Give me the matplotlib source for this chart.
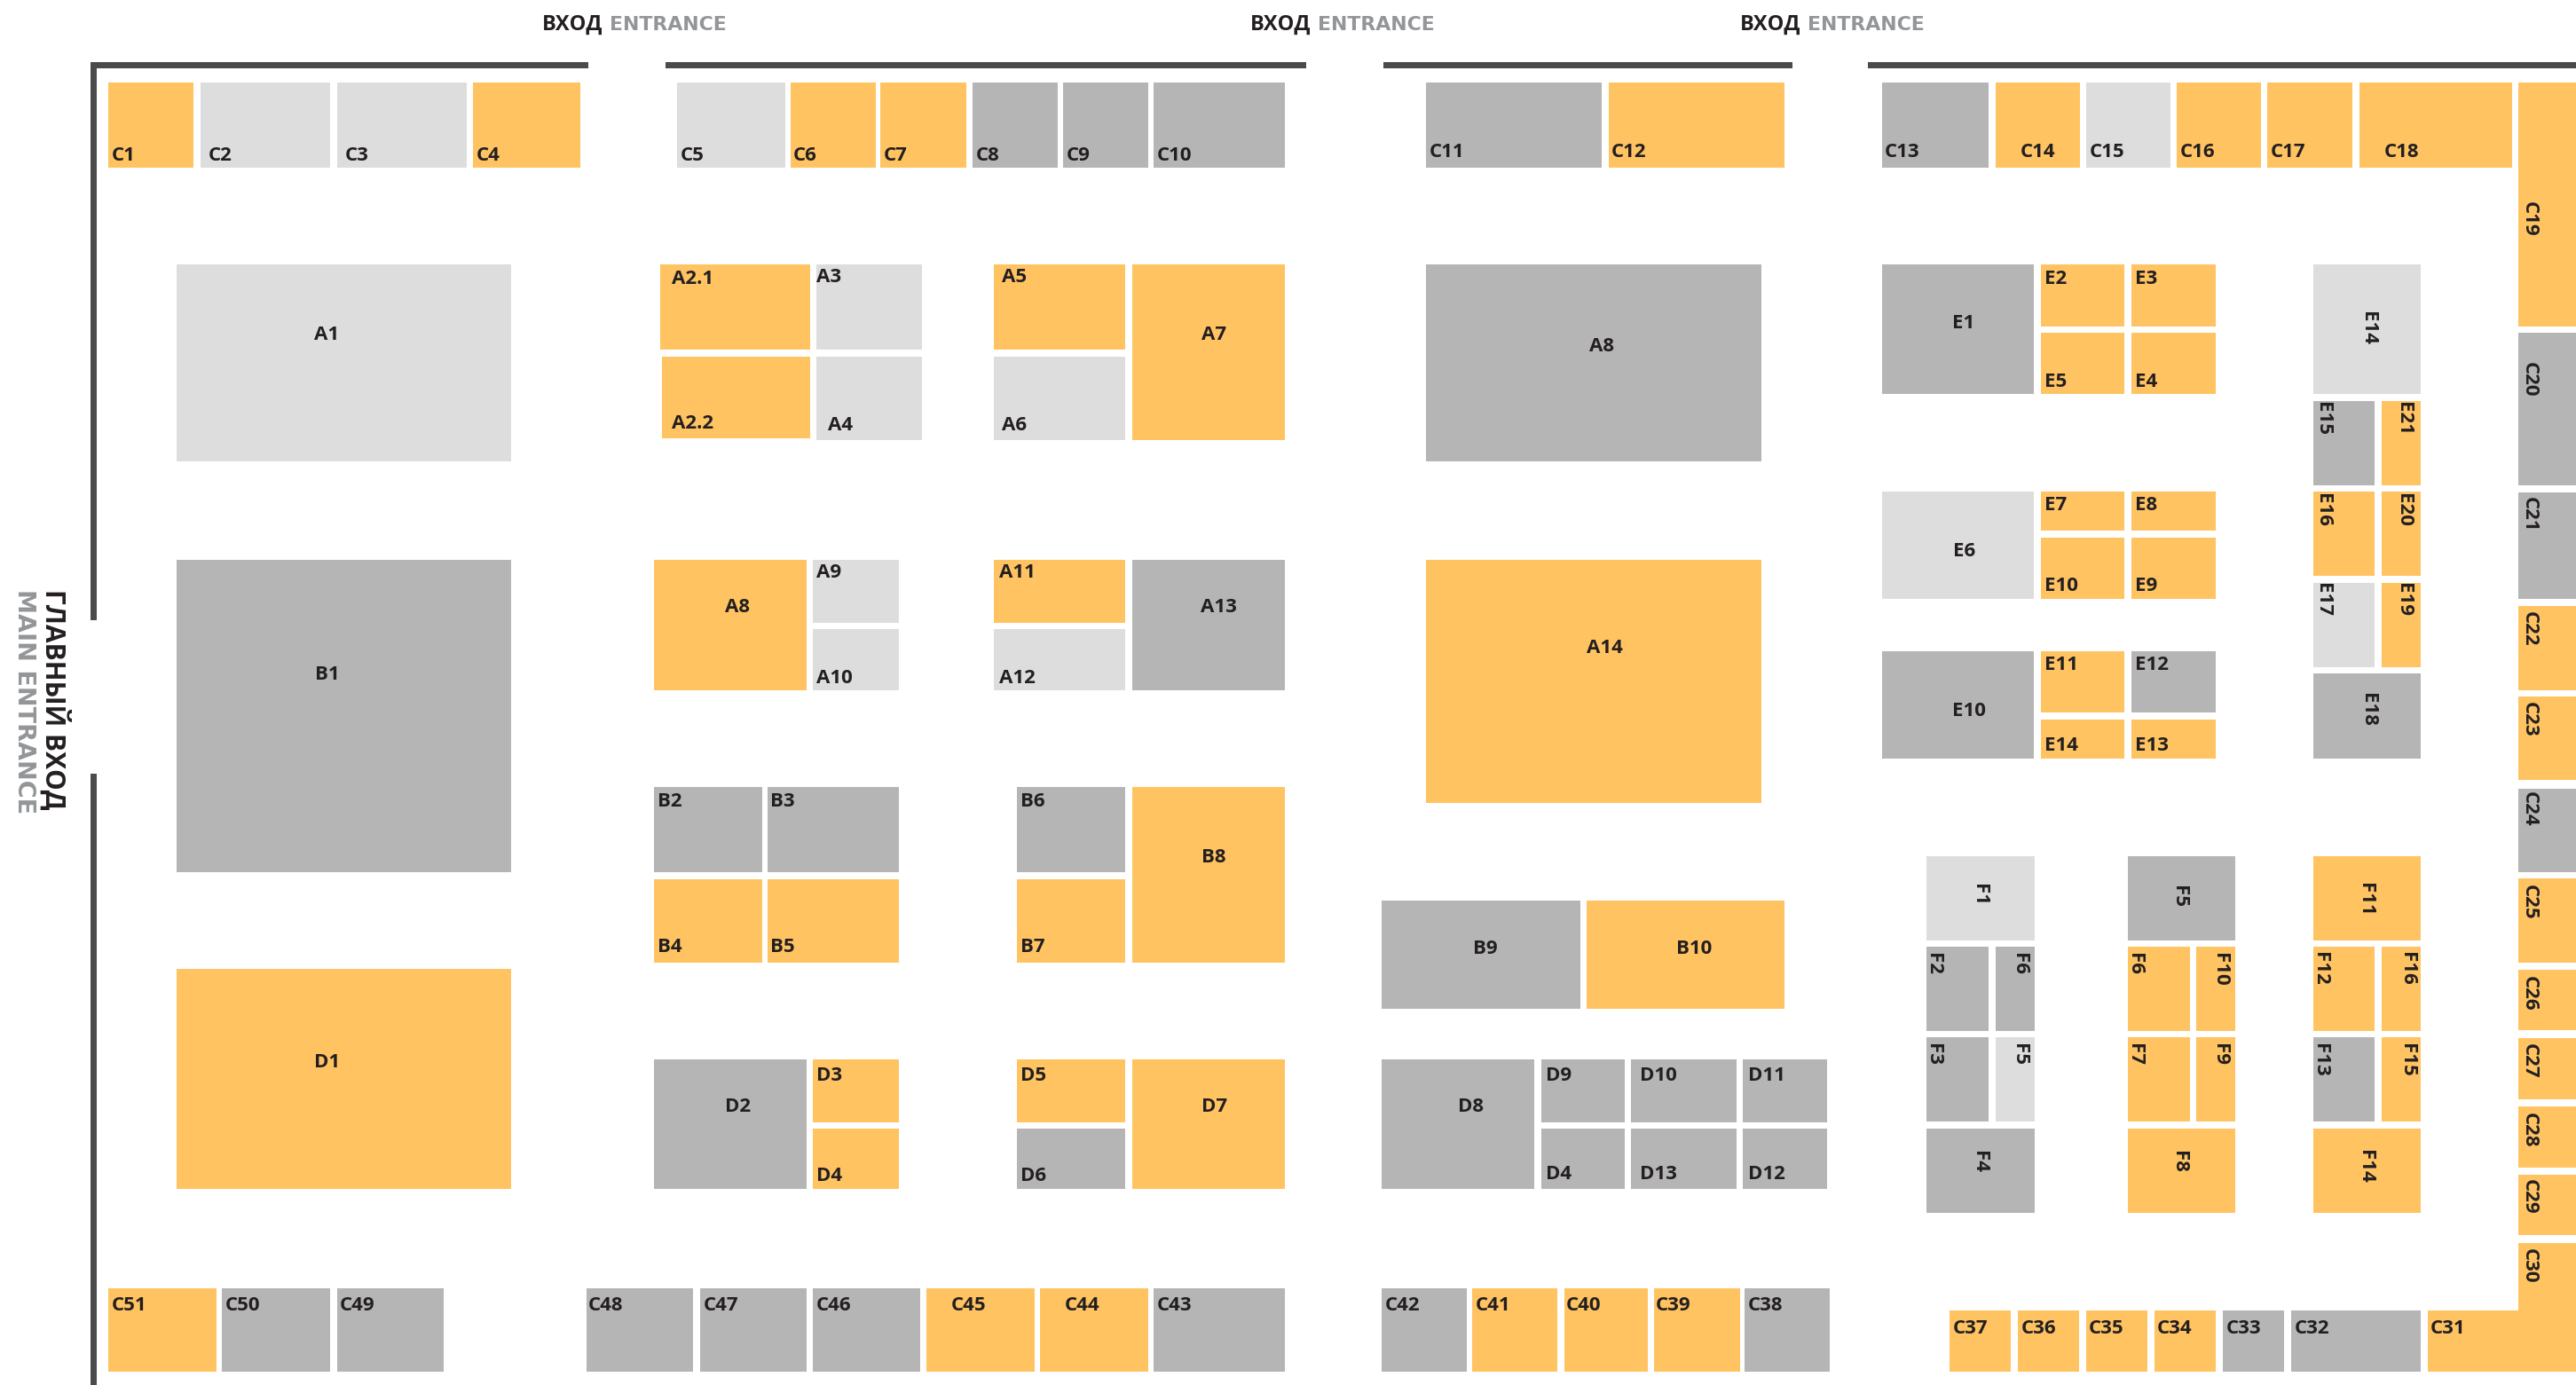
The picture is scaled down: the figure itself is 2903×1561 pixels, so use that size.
import matplotlib
matplotlib.use("Agg")
import matplotlib.pyplot as plt
from matplotlib.patches import Rectangle

W, H = 2903, 1561
SCALE = W / 1568.0
COLORS = {"O": "#FFC362", "D": "#B5B5B5", "L": "#DDDDDD"}
WALL = "#4A4B4B"
INK = "#231F20"
GREY = "#939598"
FONT = "Open Sans"
LABEL_SIZE = 16

# name, status, x0, x1, y0, y1, label x, label y  (label anchored left)
row_top = [
    ("C1","O",66,118,50,102,68,94), ("C2","L",122,201,50,102,127,94),
    ("C3","L",205,284,50,102,210,94), ("C4","O",288,353,50,102,290,94),
    ("C5","L",412,478,50,102,414,94), ("C6","O",481,533,50,102,483,94),
    ("C7","O",536,588,50,102,538,94), ("C8","D",592,644,50,102,594,94),
    ("C9","D",647,699,50,102,649,94), ("C10","D",702,782,50,102,704,94),
    ("C11","D",868,975,50,102,870,92), ("C12","O",979,1086,50,102,981,92),
    ("C13","D",1145.5,1210.5,50,102,1147,92), ("C14","O",1215,1266,50,102,1230,92),
    ("C15","L",1270,1321,50,102,1272,92), ("C16","O",1325,1376,50,102,1327,92),
    ("C17","O",1380,1432,50,102,1382,92), ("C18","O",1436,1529,50,102,1451,92),
]
row_bottom = [
    ("C51","O",66,132,784,835,68,794), ("C50","D",135,201,784,835,137,794),
    ("C49","D",205,270,784,835,207,794), ("C48","D",357,422,784,835,358,794),
    ("C47","D",426,491,784,835,428,794), ("C46","D",495,560,784,835,497,794),
    ("C45","O",564,630,784,835,579,794), ("C44","O",633,699,784,835,648,794),
    ("C43","D",702,782,784,835,704,794), ("C42","D",841,893,784,835,843,794),
    ("C41","O",896,948,784,835,898,794), ("C40","O",952,1003,784,835,953,794),
    ("C39","O",1007,1059,784,835,1008,794), ("C38","D",1062,1114,784,835,1064,794),
    ("C37","O",1186.6,1224.2,798,835,1188.5,808), ("C36","O",1228.5,1265.7,798,835,1230.4,808),
    ("C35","O",1270,1307,798,835,1271.6,808), ("C34","O",1311.6,1348.8,798,835,1313,808),
    ("C33","D",1353,1390.4,798,835,1355,808), ("C32","D",1394.5,1473.6,798,835,1396.5,808),
    ("C31","O",1477.6,1568,798,835,1479.5,808),
]
block_a = [
    ("A2.1","O",402,493,161,213,409,169), ("A2.2","O",403,493,217,267,409,257),
    ("A3","L",497,561,161,213,497,168), ("A4","L",497,561,217,268,504,258),
    ("A5","O",605,685,161,213,610,168), ("A6","L",605,685,217,268,610,258),
    ("A9","L",495,547,341,379,497,348), ("A10","L",495,547,383,420,497,412),
    ("A11","O",605,685,341,379,608,348), ("A12","L",605,685,383,420,608,412),
]
block_b = [
    ("B2","D",398,464,479,531,400,487), ("B3","D",467,547,479,531,469,487),
    ("B4","O",398,464,535,586,400,576), ("B5","O",467,547,535,586,469,576),
    ("B6","D",619,685,479,531,621,487), ("B7","O",619,685,535,586,621,576),
]
block_d = [
    ("D3","O",495,547,645,683,497,654), ("D4","O",495,547,687,724,497,715),
    ("D5","O",619,685,645,683,621,654), ("D6","D",619,685,687,724,621,715),
    ("D9","D",938,989,645,683,941,654), ("D10","D",993,1057,645,683,998,654),
    ("D11","D",1061,1112,645,683,1064,654), ("D4","D",938,989,687,724,941,714),
    ("D13","D",993,1057,687,724,998,714), ("D12","D",1061,1112,687,724,1064,714),
]
block_e = [
    ("E2","O",1242.5,1293,161,198.5,1244.2,169), ("E3","O",1297.4,1348.8,161,198.5,1299.5,169),
    ("E5","O",1242.5,1293,202.8,240,1244.2,231.6), ("E4","O",1297.4,1348.8,202.8,240,1299.5,231.6),
    ("E7","O",1242.5,1293,299.5,323,1244.2,307), ("E8","O",1297.4,1348.8,299.5,323,1299.5,307),
    ("E10","O",1242.5,1293,327.4,364.7,1244.2,355.7), ("E9","O",1297.4,1348.8,327.4,364.7,1299.5,355.7),
    ("E11","O",1242.5,1293,396.6,433.8,1244.2,404), ("E12","D",1297.4,1348.8,396.6,433.8,1299.5,404),
    ("E14","O",1242.5,1293,438,461.7,1244.2,453), ("E13","O",1297.4,1348.8,438,461.7,1299.5,453),
]
# label centred in both directions
block_centered = [
    ("A1","L",107.5,311,161,281,199,203), ("B1","D",107.5,311,341,531,199,410),
    ("D1","O",107.5,311,590,724,199,646), ("A7","O",689,782,161,268,739,203),
    ("A8","O",398,491,341,420,449,369), ("A13","D",689,782,341,420,742,369),
    ("B8","O",689,782,479,586,739,521), ("D2","D",398,491,645,724,449,673),
    ("D7","O",689,782,645,724,739,673), ("A8","D",868,1072,161,281,975,210),
    ("A14","O",868,1072,341,489,977,394), ("B9","D",841,962,548,614,904,577),
    ("B10","O",966,1086,548,614,1031,577), ("D8","D",841,934,645,724,895,673),
    ("E1","D",1145.5,1238,161,240,1195,196.3), ("E6","L",1145.5,1238,299.5,364.7,1195.5,335),
    ("E10","D",1145.5,1238,396.6,461.7,1198.7,432),
]
# label turned to read downwards
column_right = [
    ("C19","O",1533,1568,50,198.5,1541.3,133.3), ("C20","D",1533,1568,202.6,295.3,1541.3,231),
    ("C21","D",1533,1568,299.6,364.7,1541.3,313), ("C22","O",1533,1568,369,420,1541.3,383),
    ("C23","O",1533,1568,424,475,1541.3,437.8), ("C24","D",1533,1568,480,530.7,1541.3,492.6),
    ("C25","O",1533,1568,534.6,585.9,1541.3,549), ("C26","O",1533,1568,590.4,627,1541.3,604.6),
    ("C27","O",1533,1568,631.8,669,1541.3,646), ("C28","O",1533,1568,673.6,710.6,1541.3,688),
    ("C29","O",1533,1568,715,752,1541.3,728.7), ("C30","O",1533,1568,756.5,798.5,1541.3,770.8),
]
column_e = [
    ("E14","L",1408.2,1473.4,161,240,1442.9,200), ("E15","D",1408.2,1445.5,244,295.5,1415.6,255),
    ("E21","O",1449.6,1473.4,244,295.5,1465,255), ("E16","O",1408.2,1445.5,299.5,350.7,1415.6,310.4),
    ("E20","O",1449.6,1473.4,299.5,350.7,1465,310.4), ("E17","L",1408.2,1445.5,355,406,1415.6,365.3),
    ("E19","O",1449.6,1473.4,355,406,1465,365.3), ("E18","D",1408.2,1473.4,410,461.7,1442.9,432),
]
column_f = [
    ("F1","L",1172.8,1238.4,521,572.4,1206.6,544.8), ("F2","D",1172.8,1210.4,576.3,627.7,1178.7,587),
    ("F6","D",1214.6,1238.4,576.3,627.7,1230.7,587), ("F3","D",1172.8,1210.4,631.6,682.8,1178.7,642),
    ("F5","L",1214.6,1238.4,631.6,682.8,1230.7,642), ("F4","D",1172.8,1238.4,687,738.4,1206.6,707.4),
    ("F5","D",1295.4,1360.6,521,572.4,1328.3,545.8), ("F6","O",1295.4,1333,576.3,627.7,1301,587),
    ("F10","O",1336.8,1360.6,576.3,627.7,1353,590), ("F7","O",1295.4,1333,631.6,682.8,1301,642),
    ("F9","O",1336.8,1360.6,631.6,682.8,1353,642), ("F8","O",1295.4,1360.6,687,738.4,1328.3,707.4),
    ("F11","O",1408.2,1473.4,521,572.4,1441.7,547.8), ("F12","O",1408.2,1445.5,576.3,627.7,1413.8,590),
    ("F16","O",1449.6,1473.4,576.3,627.7,1467,590), ("F13","D",1408.2,1445.5,631.6,682.8,1413.8,645.5),
    ("F15","O",1449.6,1473.4,631.6,682.8,1467,645.5), ("F14","O",1408.2,1473.4,687,738.4,1441.7,710.4),
]
# x0, x1, y0, y1
walls = [
    (55,358,37.6,41.6), (405,795,37.6,41.6), (842,1091,37.6,41.6), (1137,1568,37.6,41.6),
    (55,59,37.6,377.6), (55,59,471,843.2),
]
entrance_x = [330, 761, 1059]
entrance_grey_x = [371, 802, 1100]
entrance_ru = "ВХОД"
entrance_en = "ENTRANCE"
main_ru = "ГЛАВНЫЙ ВХОД"
main_en = "MAIN ENTRANCE"

fig = plt.figure(figsize=(W / 100, H / 100), dpi=100, facecolor="white")
ax = fig.add_axes([0, 0, 1, 1])
ax.set_xlim(0, W / SCALE)
ax.set_ylim(H / SCALE, 0)
ax.axis("off")


def draw_box(x0, x1, y0, y1, color):
    ax.add_patch(Rectangle((x0, y0), x1 - x0, y1 - y0, facecolor=color, edgecolor="none", linewidth=0))


def draw(items, dx=0.0, dy=0.0, **text_kw):
    for name, status, x0, x1, y0, y1, lx, ly in items:
        draw_box(x0, x1, y0, y1, COLORS[status])
        ax.text(lx + dx, ly + dy, name, family=FONT, weight="bold", color=INK, fontsize=LABEL_SIZE, **text_kw)


for group in (row_top, row_bottom, block_a, block_b, block_d, block_e):
    draw(group, dy=0.8, ha="left", va="center")
draw(block_centered, dy=0.8, ha="center", va="center")
for group in (column_right, column_e, column_f):
    draw(group, dx=-1.8, ha="center", va="center", rotation=-90)

for x0, x1, y0, y1 in walls:
    draw_box(x0, x1, y0, y1, WALL)

for x, xg in zip(entrance_x, entrance_grey_x):
    ax.text(x, 15, entrance_ru, family=FONT, weight="bold", color=INK, fontsize=17, ha="left", va="center")
    ax.text(xg, 15, entrance_en, family="DejaVu Sans", weight="bold", color=GREY, fontsize=15.8, ha="left", va="center")

ax.text(33.5, 358.5, main_ru, family=FONT, weight="bold", color=INK, fontsize=21.5, rotation=-90, ha="center", va="top")
ax.text(14.5, 358.5, main_en, family="DejaVu Sans", weight="bold", color=GREY, fontsize=19.5, rotation=-90, ha="center", va="top")

fig.savefig("out.png", dpi=100, facecolor="white")
